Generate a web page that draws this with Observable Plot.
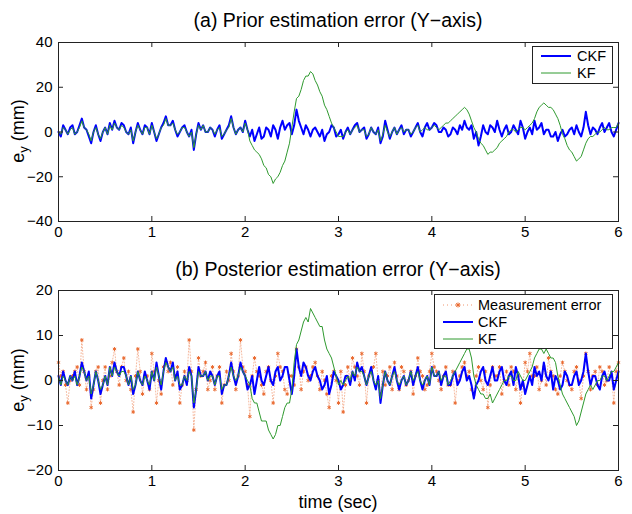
<!DOCTYPE html>
<html><head><meta charset="utf-8">
<script src="https://cdn.jsdelivr.net/npm/d3@7"></script>
<script src="https://cdn.jsdelivr.net/npm/@observablehq/plot@0.6"></script>
<style>
body{margin:0;background:#fff;font-family:"Liberation Sans",Arial,sans-serif;color:#000}
#wrap{position:relative;width:632px;height:514px;overflow:hidden;background:#fff}
.panel{position:absolute;left:0}
.title{position:absolute;left:58px;width:560px;text-align:center;font-size:19.5px;line-height:22px;white-space:nowrap}
.ylab{position:absolute;width:140px;height:22px;line-height:22px;text-align:center;font-size:18px;transform:rotate(-90deg);white-space:nowrap}
.ylab sub{font-size:13px;vertical-align:-4px}
.xlab{position:absolute;left:58px;width:560px;text-align:center;font-size:18px;line-height:20px}
.legend{position:absolute;border:1px solid #222;background:#fff;font-size:14.5px;box-sizing:border-box}
.row{position:absolute;left:0;height:17px;line-height:17px;white-space:nowrap}
.row svg{position:absolute;left:8px;top:3px}
.row span{position:absolute}
#err{position:absolute;left:0;top:0;color:red;font-size:12px}
</style>
</head><body>
<div id="wrap"></div>
<script>
// ---------- data ----------
const step = 0.025; // sampling period (s): 241 samples from 0 to 6 s
const xTicks = [0, 1, 2, 3, 4, 5, 6];
const yTicksA = [-40, -20, 0, 20, 40];
const yTicksB = [-20, -10, 0, 10, 20];
const seriesNames = ["Measurement error", "CKF", "KF"];

// (a) prior estimation error (mm)
const priorCKF = [
0,-2,3,1,-1,2,3,-1,0,3,6,2,1,-2,-5,0,3,-1,-4,0,
2,-1,4,1,5,2,1,4,3,0,-1,2,-5,0,4,1,-1,3,2,-1,
4,0,-4,-1,2,4,7,3,3,5,1,-2,0,2,3,0,-2,1,-8,-1,
4,1,3,0,0,2,1,-2,1,3,-3,-1,1,3,7,2,-1,1,2,0,
5,1,-2,1,-4,-1,2,-3,-2,2,1,-2,3,1,-3,2,5,1,3,4,
-1,3,10,5,2,-1,3,1,-2,1,2,0,-2,1,-4,-1,0,3,2,-2,
-1,1,-3,0,2,-1,1,3,4,0,1,2,-3,-1,2,0,-1,2,-5,-2,
5,1,-3,0,2,-1,1,3,-1,1,1,-2,0,2,4,0,-2,2,4,1,
2,4,3,0,0,2,1,-2,-1,2,1,-1,3,1,5,2,1,3,-3,0,
-6,-2,3,0,-1,3,2,0,5,1,-2,1,3,-1,0,3,1,-1,5,2,
-3,0,2,-1,5,1,2,4,-1,1,1,-2,-2,0,-4,-1,1,-2,-1,1,
2,-1,3,0,-2,2,9,3,-1,2,1,-1,2,4,0,2,4,0,-2,1,
4];
const priorKF = [
0,-1,2,1,-1,1,2,-1,0,2,5,2,1,-1,-4,0,2,-1,-3,0,
2,-1,3,1,4,2,1,3,2,0,-1,1,-4,0,3,1,-1,2,2,-1,
3,0,-3,-1,2,3,6,3,3,4,1,-1,0,2,2,0,-2,0,-7,-1,
3,1,3,0,0,2,1,-1,1,2,-2,-1,1,2,6,2,-1,1,2,0,
4,1,-4,-6,-8,-9,-10,-12,-15,-16,-19,-20,-23,-21,-20,-18,-15,-13,-9,-5,
2,9,15,16,19,23,25,25,27,26,23,21,18,16,12,10,7,4,2,0,
-2,-2,-2,0,1,-1,1,2,3,0,1,1,-2,-1,2,0,-1,1,-4,-1,
3,0,-2,0,2,-1,1,2,0,1,1,-1,0,2,3,0,1,2,1,1,
2,3,2,1,2,3,4,4,5,6,7,8,9,10,11,10,8,5,2,0,
-3,-5,-6,-8,-10,-9,-9,-8,-7,-5,-4,-3,-2,0,1,1,0,1,2,2,
1,2,3,4,6,9,11,12,13,12,11,11,10,8,6,3,-1,-3,-6,-8,
-9,-11,-13,-12,-11,-8,-5,-3,-2,-2,-1,0,0,1,2,1,1,2,2,2,
4];

// (b) posterior estimation error (mm)
const measErr = [
4,1,2,-1,-5,0,1,2,3,-1,9,2,-2,1,-6,-2,2,3,-5,0,
3,-2,1,4,7,2,-1,3,5,0,2,-2,-7,1,7,2,-3,1,1,-2,
6,2,-5,0,-3,3,4,2,4,-1,1,3,-5,-1,2,0,9,2,-11,-2,
5,1,2,4,-2,0,3,-2,1,3,-5,-1,2,0,6,2,-2,1,9,3,
2,-1,-8,1,5,2,1,-1,-3,2,3,0,-5,1,6,3,2,-2,-3,1,
1,-1,7,3,-2,2,3,0,1,3,4,1,-2,2,0,-3,-6,1,2,0,
-5,2,-7,-1,3,0,5,3,1,-1,6,2,-5,1,2,3,6,0,-3,2,
-1,1,3,-2,4,1,-2,3,2,-1,0,2,-3,1,5,2,1,-2,-1,2,
6,3,2,0,-2,1,3,-1,-1,2,-5,0,1,3,4,1,2,-2,-3,1,
3,0,-2,2,-6,-1,3,1,1,3,-3,0,2,-1,3,2,-2,1,-5,-1,
4,2,6,1,1,3,-2,0,3,-1,5,2,1,-2,-3,1,4,2,0,-1,
-2,2,3,0,-4,1,6,2,-2,1,2,-1,3,2,-1,0,3,1,-5,2,
4];
const postCKF = [
1,-1,2,0,-1,1,0,2,-1,1,4,2,0,2,-4,-1,2,0,-3,-1,
1,-1,3,1,4,2,1,3,3,1,-1,1,-3,-1,2,0,-1,2,0,-2,
2,0,4,1,-2,2,5,3,2,4,0,2,-2,-1,1,-1,3,1,-6,-2,
3,1,1,2,0,2,1,-1,1,2,-3,-1,-1,1,4,1,-1,1,4,2,
1,-2,-1,1,-3,0,3,0,-1,1,3,0,-1,2,3,0,1,3,3,0,
-3,1,7,3,1,4,3,1,0,2,3,1,0,-2,-1,1,-3,-1,2,1,
0,-2,-1,1,1,-1,2,0,4,2,3,1,-1,1,3,0,-2,1,-5,-1,
2,0,-1,1,3,0,-2,0,1,-1,0,2,-1,1,3,0,-2,0,1,-1,
3,1,1,2,-1,1,2,-1,-1,1,2,-1,0,2,3,0,1,-1,-4,-1,
0,2,3,0,-1,1,3,0,0,2,3,0,-1,1,2,-1,3,1,-2,0,
-3,-1,1,-1,3,1,2,0,4,1,0,2,-2,1,0,-2,-1,2,1,-1,
-1,1,2,-1,0,2,6,2,-1,1,1,-1,-2,1,2,0,0,2,-2,0,
2];
const postKF = [
1,-1,1,0,-1,1,0,1,-1,1,3,2,0,1,-3,-1,2,0,-2,-1,
1,-1,3,1,3,2,1,2,2,1,-1,1,-2,-1,2,0,-1,1,0,-1,
2,0,3,1,-1,2,4,3,2,3,0,1,-1,-1,1,0,2,1,-5,-2,
2,1,1,2,0,1,1,-1,1,1,-2,-1,-1,1,3,1,0,1,3,2,
1,0,-1,-4,-5,-5,-7,-9,-9,-9,-11,-12,-13,-12,-10,-10,-8,-6,-5,-5,
-2,4,8,9,11,13,14,13,16,15,14,13,12,12,9,7,6,5,3,1,
-1,0,-1,0,1,0,2,1,3,2,2,1,-1,1,2,0,-1,0,-4,-1,
2,0,-1,1,2,0,-1,0,1,-1,0,2,0,1,2,0,-1,0,1,-1,
3,1,1,2,0,1,1,-1,0,1,2,3,4,5,6,7,7,5,1,-1,
-2,-3,-3,-4,-4,-3,-5,-4,-3,-2,-1,0,0,1,1,0,0,2,1,0,
0,1,2,3,5,6,7,7,6,7,6,5,5,4,1,-1,-3,-4,-5,-6,
-7,-8,-10,-9,-7,-5,-3,-2,-1,-2,-1,0,0,1,1,0,1,2,2,3,
4];

// ---------- build ----------
const rows = arr => arr.map((v, i) => ({t: i * step, v}));
const C_CKF = "#0000ff", C_KF = "#2f9a2f", C_MEAS = "#ea6a30";
const wrap = document.getElementById("wrap");

function panel({top, height, mTop, mBottom, yDomain, yTicks, ckf, kf, meas}) {
  const mLeft = 58, mRight = 14, W = 632;
  const ph = height - mTop - mBottom, pw = W - mLeft - mRight;
  const marks = [];
  if (meas) {
    marks.push(Plot.line(rows(meas), {x: "t", y: "v", stroke: C_MEAS, strokeWidth: 0.8, strokeDasharray: "1,2", strokeOpacity: 0.6}));
    marks.push(Plot.dot(rows(meas), {x: "t", y: "v", symbol: "asterisk", r: 1.8, stroke: C_MEAS, strokeWidth: 1}));
  }
  marks.push(
    Plot.line(rows(ckf), {x: "t", y: "v", stroke: C_CKF, strokeWidth: 2}),
    Plot.line(rows(kf), {x: "t", y: "v", stroke: C_KF, strokeWidth: 1}),
    Plot.tickX(xTicks, {x: d => d, insetTop: ph - 5, stroke: "#222"}),
    Plot.tickX(xTicks, {x: d => d, insetBottom: ph - 5, stroke: "#222"}),
    Plot.tickY(yTicks, {y: d => d, insetRight: pw - 5, stroke: "#222"}),
    Plot.tickY(yTicks, {y: d => d, insetLeft: pw - 5, stroke: "#222"}),
    Plot.frame({stroke: "#222"})
  );
  const svg = Plot.plot({
    width: W, height, marginLeft: mLeft, marginRight: mRight, marginTop: mTop, marginBottom: mBottom,
    style: {fontFamily: "'Liberation Sans', Arial, sans-serif", fontSize: "15px", color: "#000", background: "transparent"},
    x: {domain: [0, 6], ticks: xTicks, tickSize: 0, tickPadding: 5, label: null, tickFormat: d => String(d)},
    y: {domain: yDomain, ticks: yTicks, tickSize: 0, tickPadding: 6, label: null, tickFormat: d => d < 0 ? "\u2212" + Math.abs(d) : String(d)},
    marks
  });
  const div = document.createElement("div");
  div.className = "panel";
  div.style.top = top + "px";
  div.appendChild(svg);
  wrap.appendChild(div);
}

panel({top: 0, height: 250, mTop: 42, mBottom: 29, yDomain: [-40, 40], yTicks: yTicksA, ckf: priorCKF, kf: priorKF});
panel({top: 250, height: 264, mTop: 40, mBottom: 44, yDomain: [-20, 20], yTicks: yTicksB, ckf: postCKF, kf: postKF, meas: measErr});

function addHTML(html) { wrap.insertAdjacentHTML("beforeend", html); }
addHTML(`<div class="title" style="top:9px">(a) Prior estimation error (Y\u2212axis)</div>`);
addHTML(`<div class="title" style="top:258px">(b) Posterior estimation error (Y\u2212axis)</div>`);
addHTML(`<div class="xlab" style="top:492px">time (sec)</div>`);
addHTML(`<div class="ylab" style="left:-52px;top:120px">e<sub>y</sub> (mm)</div>`);
addHTML(`<div class="ylab" style="left:-52px;top:369px">e<sub>y</sub> (mm)</div>`);

const lineSample = (c, w) => `<svg width="30" height="10"><line x1="0" y1="5" x2="30" y2="5" stroke="${c}" stroke-width="${w}"/></svg>`;
const measSample = `<svg width="30" height="10"><line x1="0" y1="5" x2="30" y2="5" stroke="${C_MEAS}" stroke-width="1" stroke-dasharray="1,3" stroke-opacity="0.7"/><path d="M15,2.5V7.5M12.5,5H17.5M13.2,3.2L16.8,6.8M16.8,3.2L13.2,6.8" stroke="${C_MEAS}" stroke-width="1"/></svg>`;

addHTML(`<div class="legend" style="left:532px;top:46px;width:81px;height:38px">
  <div class="row" style="top:1px">${lineSample(C_CKF, 2)}<span style="left:44px">${seriesNames[1]}</span></div>
  <div class="row" style="top:18px">${lineSample(C_KF, 1)}<span style="left:44px">${seriesNames[2]}</span></div>
</div>`);
addHTML(`<div class="legend" style="left:434px;top:294px;width:179px;height:55px">
  <div class="row" style="top:2px">${measSample}<span style="left:43px">${seriesNames[0]}</span></div>
  <div class="row" style="top:19px">${lineSample(C_CKF, 2)}<span style="left:43px">${seriesNames[1]}</span></div>
  <div class="row" style="top:36px">${lineSample(C_KF, 1)}<span style="left:43px">${seriesNames[2]}</span></div>
</div>`);
const lens = [priorCKF, priorKF, measErr, postCKF, postKF].map(a => a.length);
if (lens.some(n => n !== 241)) addHTML(`<div id="err">${lens.join(",")}</div>`);
</script>
</body></html>
